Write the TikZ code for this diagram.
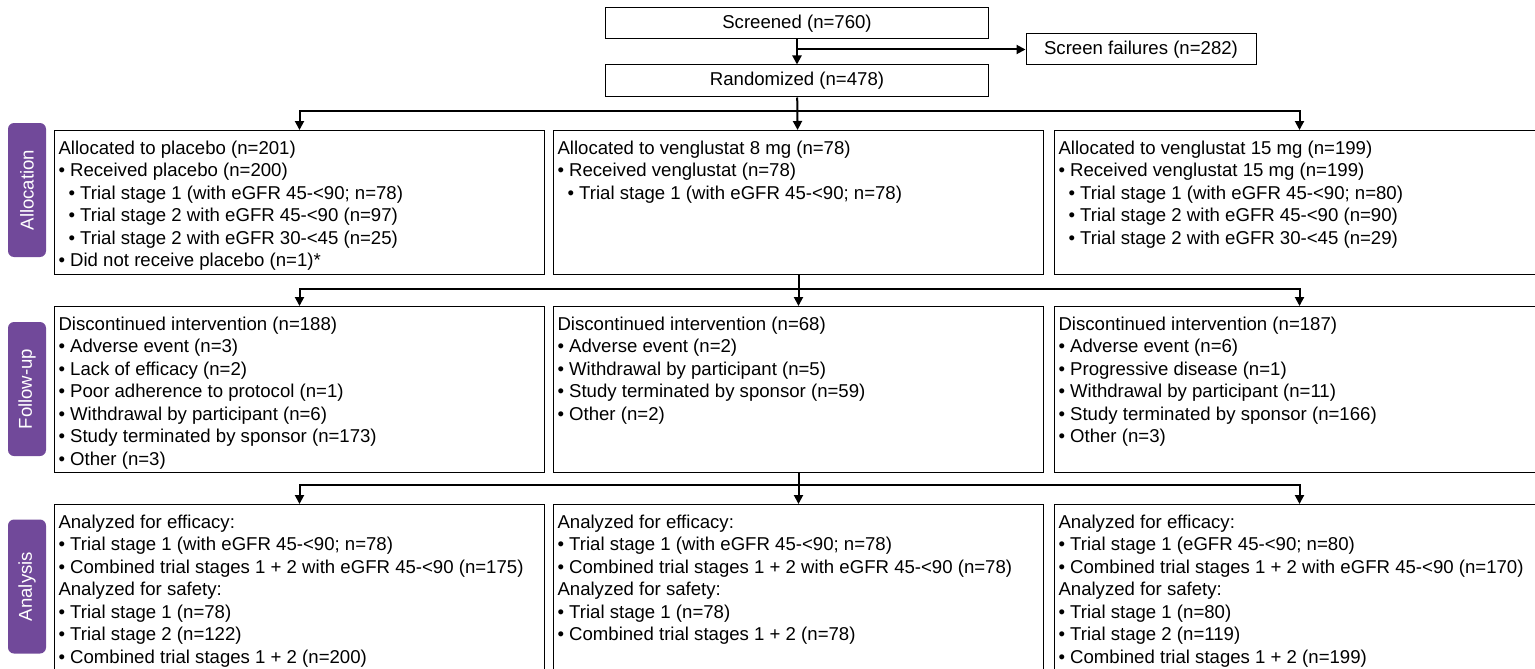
\documentclass[tikz,border=0pt]{standalone}
\usepackage{fontspec}
\setmainfont{Liberation Sans}
\usepackage{xcolor}
\usetikzlibrary{arrows.meta,calc}
\definecolor{tabpurple}{RGB}{113,73,154}
\newcommand{\cellbox}[2]{\parbox[t][#1][t]{482pt}{\strut #2}}
\newcommand{\bul}{\textbullet\ }
\newcommand{\subbul}{\hspace*{10pt}\textbullet\ }

\begin{document}
\begin{tikzpicture}[x=1pt, y=-1pt,
  every node/.style={font=\fontsize{18.6}{22.5}\selectfont},
  box/.style={draw, line width=1pt, inner sep=0pt},
  cell/.style={draw, line width=1pt, anchor=north west, inner xsep=4pt, inner ysep=8pt},
  tab/.style={fill=tabpurple, rounded corners=6pt, minimum width=134pt, minimum height=38pt, rotate=90, text=white, inner sep=0pt},
  conn/.style={line width=2pt, -{Triangle[length=9pt,width=9pt]}}]
\useasboundingbox (0,0) rectangle (1535,669);

\node[box, minimum width=383pt, minimum height=31pt] (scr) at (797,23.5) {Screened (n=760)};
\node[box, minimum width=383pt, minimum height=32pt] (rnd) at (797,81) {Randomized (n=478)};
\node[box, minimum width=230pt, minimum height=31pt] (fail) at (1141,49.5) {Screen failures (n=282)};

\node[tab] (tab1) at (27,190) {Allocation};
\node[tab] (tab2) at (27,389) {Follow-up};
\node[tab] (tab3) at (27,586.5) {Analysis};

\node[cell] (al1) at (54,130) {\cellbox{128pt}{Allocated to placebo (n=201)\\
\bul Received placebo (n=200)\\
\subbul Trial stage 1 (with eGFR 45-<90; n=78)\\
\subbul Trial stage 2 with eGFR 45-<90 (n=97)\\
\subbul Trial stage 2 with eGFR 30-<45 (n=25)\\
\bul Did not receive placebo (n=1)*}};
\node[cell] (al2) at (553,130) {\cellbox{128pt}{Allocated to venglustat 8 mg (n=78)\\
\bul Received venglustat (n=78)\\
\subbul Trial stage 1 (with eGFR 45-<90; n=78)}};
\node[cell] (al3) at (1054,130) {\cellbox{128pt}{Allocated to venglustat 15 mg (n=199)\\
\bul Received venglustat 15 mg (n=199)\\
\subbul Trial stage 1 (with eGFR 45-<90; n=80)\\
\subbul Trial stage 2 with eGFR 45-<90 (n=90)\\
\subbul Trial stage 2 with eGFR 30-<45 (n=29)}};

\node[cell] (fu1) at (54,306) {\cellbox{150pt}{Discontinued intervention (n=188)\\
\bul Adverse event (n=3)\\
\bul Lack of efficacy (n=2)\\
\bul Poor adherence to protocol (n=1)\\
\bul Withdrawal by participant (n=6)\\
\bul Study terminated by sponsor (n=173)\\
\bul Other (n=3)}};
\node[cell] (fu2) at (553,306) {\cellbox{150pt}{Discontinued intervention (n=68)\\
\bul Adverse event (n=2)\\
\bul Withdrawal by participant (n=5)\\
\bul Study terminated by sponsor (n=59)\\
\bul Other (n=2)}};
\node[cell] (fu3) at (1054,306) {\cellbox{150pt}{Discontinued intervention (n=187)\\
\bul Adverse event (n=6)\\
\bul Progressive disease (n=1)\\
\bul Withdrawal by participant (n=11)\\
\bul Study terminated by sponsor (n=166)\\
\bul Other (n=3)}};

\node[cell] (an1) at (54,504) {\cellbox{156pt}{Analyzed for efficacy:\\
\bul Trial stage 1 (with eGFR 45-<90; n=78)\\
\bul Combined trial stages 1 + 2 with eGFR 45-<90 (n=175)\\
Analyzed for safety:\\
\bul Trial stage 1 (n=78)\\
\bul Trial stage 2 (n=122)\\
\bul Combined trial stages 1 + 2 (n=200)}};
\node[cell] (an2) at (553,504) {\cellbox{156pt}{Analyzed for efficacy:\\
\bul Trial stage 1 (with eGFR 45-<90; n=78)\\
\bul Combined trial stages 1 + 2 with eGFR 45-<90 (n=78)\\
Analyzed for safety:\\
\bul Trial stage 1 (n=78)\\
\bul Combined trial stages 1 + 2 (n=78)}};
\node[cell] (an3) at (1054,504) {\cellbox{156pt}{Analyzed for efficacy:\\
\bul Trial stage 1 (eGFR 45-<90; n=80)\\
\bul Combined trial stages 1 + 2 with eGFR 45-<90 (n=170)\\
Analyzed for safety:\\
\bul Trial stage 1 (n=80)\\
\bul Trial stage 2 (n=119)\\
\bul Combined trial stages 1 + 2 (n=199)}};

\coordinate (s1) at (rnd.south |- 0,111);
\coordinate (s2) at ($(al2.south)!0.45!(fu2.north)$);
\coordinate (s3) at ($(fu2.south)!0.4!(an2.north)$);

\draw[conn] (scr) -- (rnd);
\draw[conn] (scr.south |- fail.west) -- (fail.west);
\draw[conn] (rnd) -- (al2);
\draw[conn] (s1) -| (al1.north);
\draw[conn] (s1) -| (al3.north);
\draw[conn] (al2) -- (fu2);
\draw[conn] (s2) -| (fu1.north);
\draw[conn] (s2) -| (fu3.north);
\draw[conn] (fu2) -- (an2);
\draw[conn] (s3) -| (an1.north);
\draw[conn] (s3) -| (an3.north);
\end{tikzpicture}
\end{document}
